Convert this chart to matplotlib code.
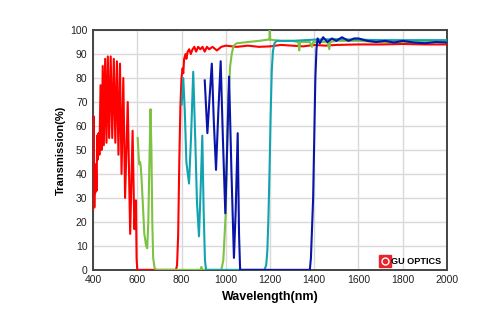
import matplotlib
matplotlib.use("Agg")
import matplotlib.pyplot as plt

plt.rcParams['font.family'] = ['Liberation Sans', 'DejaVu Sans']

# red filter: visible ripple band, then long pass from ~790 nm
red_wl = [400, 401, 403, 406, 408, 410, 413, 416, 419, 422, 425, 429, 434, 439, 444, 449,
          455, 461, 467, 473, 480, 487, 494, 501, 508, 515, 522, 529, 537, 545, 557, 568,
          579, 587, 594, 597, 600, 775, 780, 785, 790, 795, 800, 805, 808, 812,
          818, 822, 828, 835, 842, 850, 858, 866, 875, 885, 895, 905, 915, 925, 940, 960,
          980, 1000, 1050, 1100, 1150, 1200, 1250, 1300, 1350, 1400, 1450, 1500, 1600,
          1700, 1800, 1900, 2000]
red_t = [25, 55, 64, 26, 42, 32, 44, 33, 56, 46, 57, 48, 77, 50, 85, 52,
         88, 53, 89, 55, 89, 55, 88, 53, 87, 48, 86, 40, 80, 30, 70, 15,
         58, 17, 29, 5, 0, 0, 2, 15, 45, 68, 80, 84, 82, 88,
         90, 88, 91, 92, 90, 92, 93, 91, 93, 92, 93, 91, 93, 92, 93, 91.5,
         93, 93.5, 93, 93.5, 93, 93.2, 93.8, 93.5, 93.2, 93.8, 93.5, 93.8, 94,
         94, 94.2, 94, 94]

# green filter
green_wl = [602, 606, 609, 613, 616, 620, 625, 632, 640, 645, 650, 655, 660, 664, 668,
            672, 678, 685, 885, 890, 895, 980, 989, 1000, 1006, 1012, 1020, 1027, 1034,
            1042, 1050, 1100, 1150, 1190, 1197, 1199, 1201, 1250, 1300, 1328, 1332, 1336,
            1380, 1390, 1395, 1420, 1460, 1468, 1472, 1500, 1600, 1700, 1800, 1900, 2000]
green_t = [55, 48, 44, 45, 43, 37, 28, 15, 10, 9, 20, 45, 67, 50, 20,
           5, 1, 0, 0, 1.2, 0, 0, 4, 24, 50, 72, 85, 90, 93,
           94, 94.5, 95, 95.5, 96, 96, 100, 96, 95.5, 95.5, 95, 91.5, 95,
           95, 93, 95, 95, 95, 92, 95, 95.5, 95.5, 95, 95, 95, 95]

# teal filter
teal_wl = [801, 808, 815, 822, 834, 843, 853, 862, 870, 879, 887, 894, 900, 906, 911,
           1175, 1183, 1188, 1193, 1198, 1203, 1208, 1213, 1220, 1230, 1300, 1400,
           1500, 1600, 1700, 1800, 1900, 2000]
teal_t = [69, 80, 66, 45, 36, 55, 82.6, 55, 28, 14, 35, 56, 25, 4, 0,
          0, 2, 8, 22, 42, 65, 83, 91, 94.5, 95.5, 95.5, 96,
          96.2, 96, 95.8, 95.8, 95.8, 95.8]

# blue filter
blue_wl = [905, 911, 917, 927, 937, 946, 956, 966, 977, 987, 998, 1006, 1015, 1026,
           1037, 1045, 1054, 1060, 1065, 1380, 1385, 1395, 1400, 1405, 1410, 1415,
           1425, 1440, 1460, 1480, 1500, 1525, 1555, 1580, 1600, 1640, 1680, 1720,
           1760, 1800, 1850, 1900, 1950, 2000]
blue_t = [79, 68, 57, 72, 86, 62, 41.7, 65, 87, 55, 23.6, 50, 80.6, 40,
          5, 25, 57, 15, 0, 0, 5, 30, 55, 80, 92, 96.5,
          94.5, 97, 95, 96.5, 95.5, 97, 95.5, 96.5, 96.5, 95.5, 95, 95.5,
          94.8, 95.5, 94.8, 94.5, 95, 94.8]

fig = plt.figure(figsize=(5, 3.34), dpi=100)
ax = fig.add_axes([0.186, 0.192, 0.708, 0.718])

ax.plot(red_wl, red_t, color='#ff0000', lw=1.5, zorder=3)
ax.plot(green_wl, green_t, color='#7dc242', lw=1.5, zorder=4)
ax.plot(teal_wl, teal_t, color='#12a3b0', lw=1.5, zorder=5)
ax.plot(blue_wl, blue_t, color='#0a14a8', lw=1.5, zorder=6)

ax.set_xlim(400, 2000)
ax.set_ylim(0, 100)
ax.set_xticks(range(400, 2001, 200))
ax.set_yticks(range(0, 101, 10))
ax.grid(True, color='#d9d9d9', lw=1)
ax.set_axisbelow(True)
ax.tick_params(length=0, labelsize=7.5, pad=4, colors='#222222')
for s in ax.spines.values():
    s.set_color('#444444')
    s.set_linewidth(1.4)

ax.set_xlabel('Wavelength(nm)', fontsize=9, fontweight='bold', labelpad=4)
ax.set_ylabel('Transmission(%)', fontsize=8, fontweight='bold', labelpad=3)

# logo
ax.plot([0.826], [0.035], marker='s', ms=8.5, color='#e8232a', transform=ax.transAxes,
        zorder=10, clip_on=False)
ax.plot([0.826], [0.035], marker='o', ms=5, mfc='none', mec='white', mew=1,
        transform=ax.transAxes, zorder=11, clip_on=False)
ax.text(0.843, 0.035, 'GU OPTICS', transform=ax.transAxes, fontsize=6.6,
        fontweight='bold', va='center', ha='left', zorder=11)

fig.savefig('out.png', dpi=100)
